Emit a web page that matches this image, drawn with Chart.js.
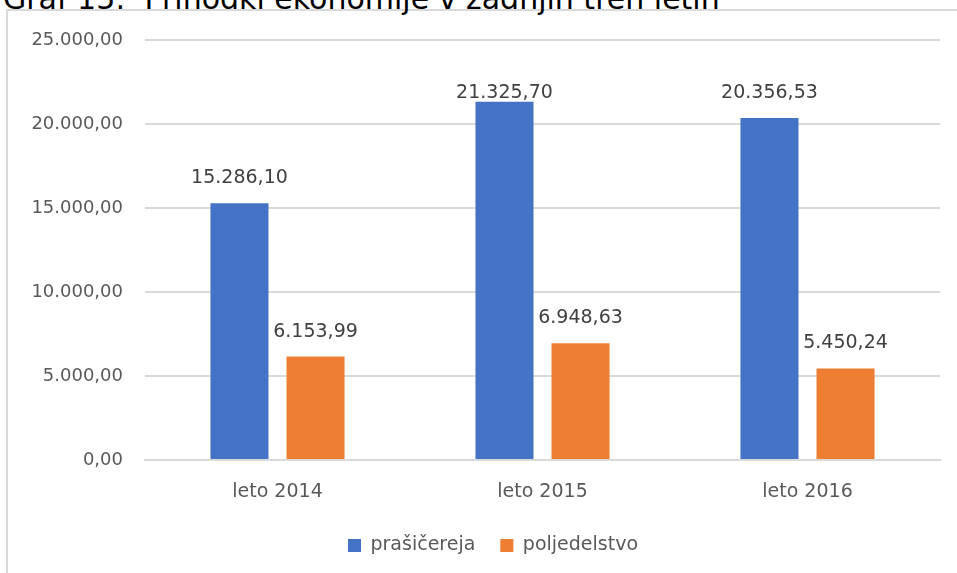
<!DOCTYPE html>
<html>
<head>
<meta charset="utf-8">
<script src="https://cdn.jsdelivr.net/npm/chart.js@4.4.0/dist/chart.umd.min.js"></script>
<style>
  html, body { margin: 0; padding: 0; background: #fff; width: 957px; height: 573px; overflow: hidden; position: relative; }
  #frame { position: absolute; left: 6px; top: 9px; width: 1000px; height: 1000px; border: 2px solid #d9d9d9; box-sizing: border-box; }
  #title { position: absolute; left: 3px; top: -16px; font-family: "DejaVu Sans", sans-serif; font-size: 30px; line-height: 30px; color: #000; white-space: pre; }
  #wrap { position: absolute; left: 0; top: 0; width: 957px; height: 573px; }
</style>
</head>
<body>
<div id="frame"></div>
<div id="title">Graf 15:  Prihodki ekonomije v zadnjih treh letih</div>
<div id="wrap"><canvas id="c" width="957" height="573"></canvas></div>
<script>
const categories = ["leto 2014", "leto 2015", "leto 2016"];
const seriesNames = ["prašičereja", "poljedelstvo"];
const prasicereja = [15286.10, 21325.70, 20356.53];
const poljedelstvo = [6153.99, 6948.63, 5450.24];
const yTicks = [0, 5000, 10000, 15000, 20000, 25000];

function fmt(v) {
  const neg = v < 0;
  const s = Math.abs(v).toFixed(2);
  let [ip, dp] = s.split(".");
  ip = ip.replace(/\B(?=(\d{3})+(?!\d))/g, ".");
  return (neg ? "-" : "") + ip + "," + dp;
}

const FONT = '"DejaVu Sans", sans-serif';

const valueLabels = {
  id: "valueLabels",
  afterDatasetsDraw(chart) {
    const ctx = chart.ctx;
    const minY = chart.chartArea.top + 53;
    ctx.save();
    ctx.font = "19px " + FONT;
    ctx.fillStyle = "#404040";
    ctx.textAlign = "center";
    ctx.textBaseline = "middle";
    chart.data.datasets.forEach((ds, i) => {
      chart.getDatasetMeta(i).data.forEach((bar, j) => {
        ctx.fillText(fmt(ds.data[j]), bar.x, Math.max(bar.y - 25, minY));
      });
    });
    ctx.restore();
  }
};

const legendShift = {
  id: "legendShift",
  afterLayout(chart) {
    const l = chart.legend;
    if (!l) return;
    l.left = 46;
    l.right = 940;
    l.width = l.right - l.left;
  }
};

new Chart(document.getElementById("c"), {
  type: "bar",
  data: {
    labels: categories,
    datasets: [
      { label: seriesNames[0], data: prasicereja, backgroundColor: "#4472C4" },
      { label: seriesNames[1], data: poljedelstvo, backgroundColor: "#ED7D31" }
    ]
  },
  options: {
    responsive: false,
    animation: false,
    devicePixelRatio: 1,
    datasets: { bar: { categoryPercentage: 0.574, barPercentage: 0.763 } },
    layout: { padding: { left: 0, right: 17, top: 40, bottom: 8 } },
    plugins: {
      tooltip: { enabled: false },
      legend: {
        position: "bottom",
        labels: { boxWidth: 13, boxHeight: 13, padding: 25, color: "#595959", font: { family: FONT, size: 19 } }
      }
    },
    scales: {
      x: {
        grid: { display: false, drawTicks: false },
        border: { display: true, color: "#d9d9d9", width: 2 },
        ticks: { color: "#595959", font: { family: FONT, size: 19 }, padding: 21 },
        afterFit(s) { s.height = 51; }
      },
      y: {
        min: 0, max: 25000,
        afterBuildTicks(s) { s.ticks = yTicks.map(v => ({ value: v })); },
        grid: { color: "#d9d9d9", lineWidth: 2, drawTicks: false },
        border: { display: false },
        ticks: { color: "#595959", font: { family: FONT, size: 18 }, padding: 22, callback: v => fmt(v) },
        afterFit(s) { s.width = 145; }
      }
    }
  },
  plugins: [valueLabels, legendShift]
});
</script>
</body>
</html>
